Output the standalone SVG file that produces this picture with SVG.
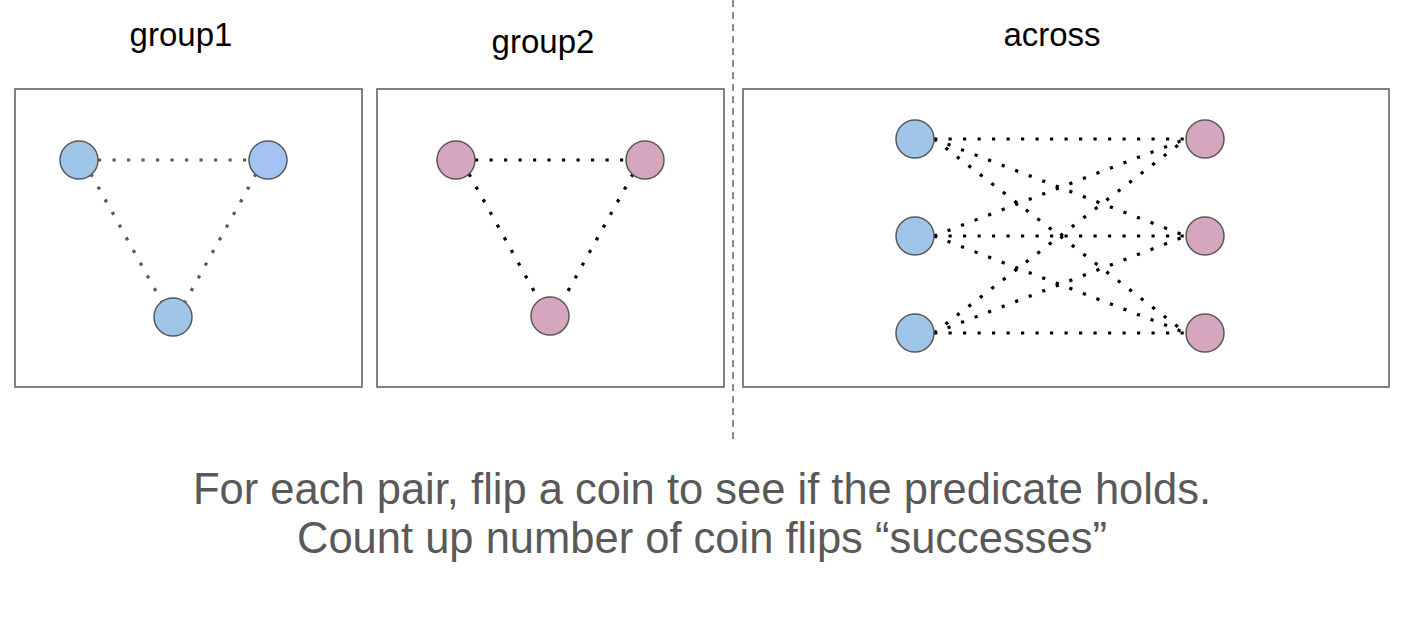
<svg xmlns="http://www.w3.org/2000/svg" width="1418" height="624" viewBox="0 0 1418 624">
<style>
.box{fill:#fff;stroke:#595959;stroke-width:1.5}
.title{font-family:"Liberation Sans",Arial,sans-serif;font-size:33px;fill:#000;text-anchor:middle}
.cap{font-family:"Liberation Sans",Arial,sans-serif;font-size:43.5px;fill:#595959;text-anchor:middle}
.node{stroke:#595959;stroke-width:1.5}
.blue{fill:#9fc5e8}
.blue2{fill:#a4c2f4}
.pink{fill:#d5a6bd}
.e1{stroke:#595959;stroke-width:3.2;stroke-dasharray:3.2 11.3;fill:none}
.e2{stroke:#000;stroke-width:3.2;stroke-dasharray:3.2 11.3;fill:none}
</style>
<rect width="1418" height="624" fill="#fff"/>
<line x1="733" y1="0" x2="733" y2="443" stroke="#666" stroke-width="1.5" stroke-dasharray="7 5"/>
<g id="panel-group1">
<text class="title" x="181" y="46">group1</text>
<rect class="box" x="15" y="89" width="347" height="298"/>
</g>
<g id="panel-group2">
<text class="title" x="543" y="53">group2</text>
<rect class="box" x="377" y="89" width="347" height="298"/>
</g>
<g id="panel-across">
<text class="title" x="1052" y="46">across</text>
<rect class="box" x="743" y="89" width="646" height="298"/>
</g>
<g id="connectors">
<line class="e1" x1="98" y1="160" x2="249" y2="160"/>
<line class="e1" x1="91" y1="174" x2="162" y2="302"/>
<line class="e1" x1="256" y1="174" x2="185" y2="302"/>
<line class="e2" x1="475" y1="160" x2="626" y2="160"/>
<line class="e2" x1="469" y1="174" x2="539" y2="300"/>
<line class="e2" x1="633" y1="174" x2="563" y2="300"/>
<line class="e2" x1="934" y1="139" x2="1186" y2="139"/>
<line class="e2" x1="934" y1="139" x2="1186" y2="236"/>
<line class="e2" x1="934" y1="139" x2="1186" y2="333"/>
<line class="e2" x1="934" y1="236" x2="1186" y2="139"/>
<line class="e2" x1="934" y1="236" x2="1186" y2="236"/>
<line class="e2" x1="934" y1="236" x2="1186" y2="333"/>
<line class="e2" x1="934" y1="333" x2="1186" y2="139"/>
<line class="e2" x1="934" y1="333" x2="1186" y2="236"/>
<line class="e2" x1="934" y1="333" x2="1186" y2="333"/>
</g>
<g id="g1-a"><circle class="node blue" cx="79" cy="160" r="19"/></g>
<g id="g1-b"><circle class="node blue2" cx="268" cy="160" r="19"/></g>
<g id="g1-c"><circle class="node blue" cx="173" cy="317" r="19"/></g>
<g id="g2-a"><circle class="node pink" cx="456" cy="160" r="19"/></g>
<g id="g2-b"><circle class="node pink" cx="645" cy="160" r="19"/></g>
<g id="g2-c"><circle class="node pink" cx="550" cy="316" r="19"/></g>
<g id="ac-l1"><circle class="node blue" cx="915" cy="139" r="19"/></g>
<g id="ac-l2"><circle class="node blue" cx="915" cy="236" r="19"/></g>
<g id="ac-l3"><circle class="node blue" cx="915" cy="333" r="19"/></g>
<g id="ac-r1"><circle class="node pink" cx="1205" cy="139" r="19"/></g>
<g id="ac-r2"><circle class="node pink" cx="1205" cy="236" r="19"/></g>
<g id="ac-r3"><circle class="node pink" cx="1205" cy="333" r="19"/></g>
<g id="caption">
<text class="cap" x="702" y="504">For each pair, flip a coin to see if the predicate holds.</text>
<text class="cap" x="702" y="553">Count up number of coin flips “successes”</text>
</g>
</svg>
